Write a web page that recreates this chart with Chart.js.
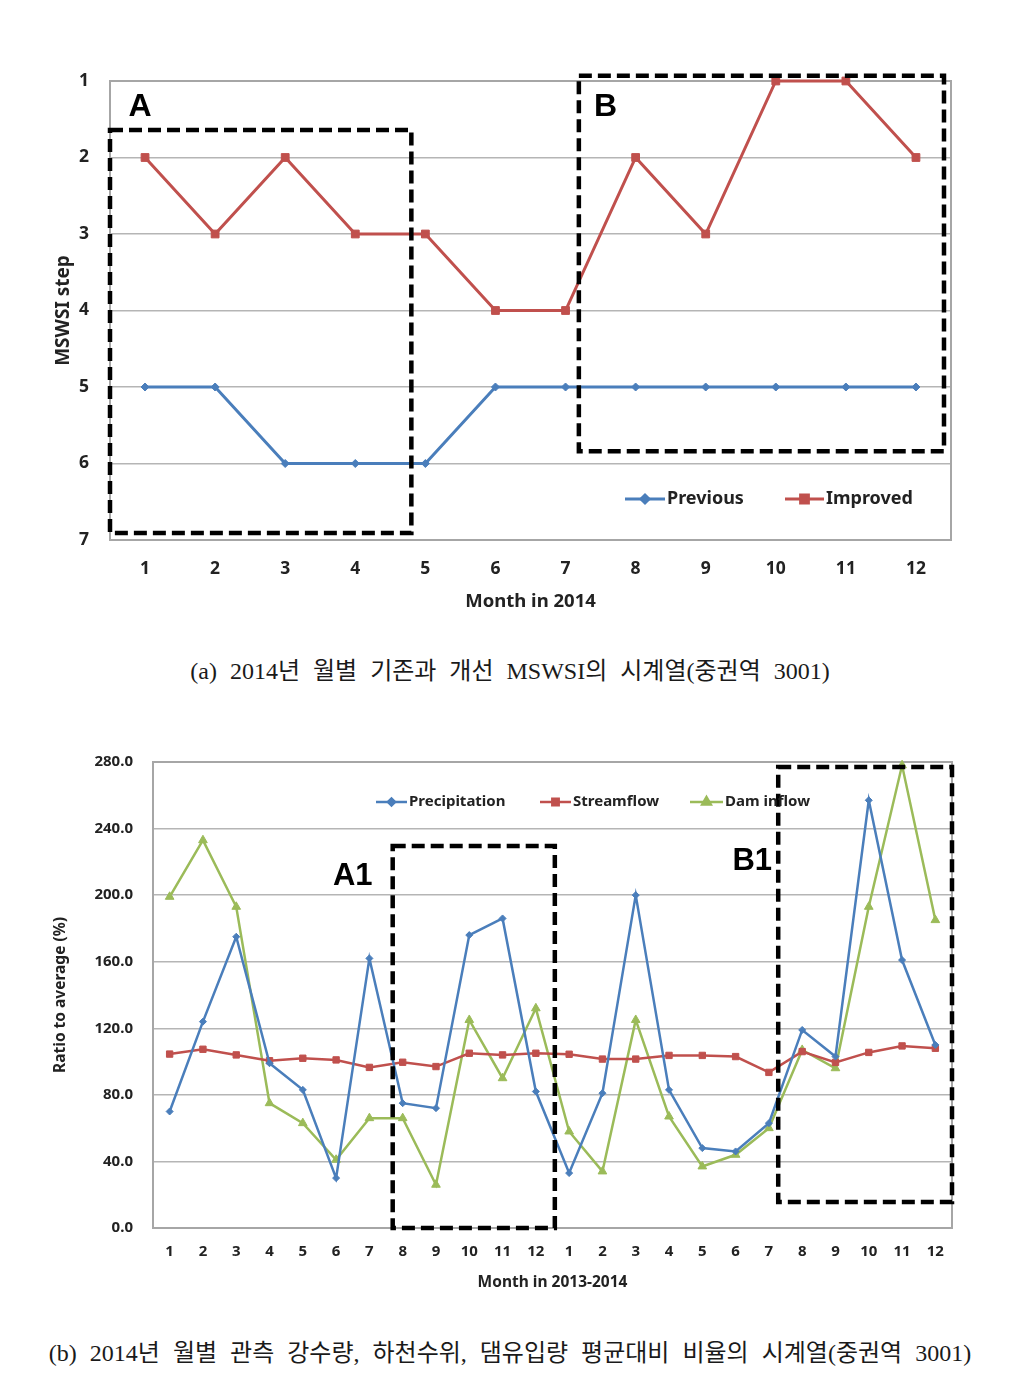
<!DOCTYPE html>
<html>
<head>
<meta charset="utf-8">
<script src="https://cdn.jsdelivr.net/npm/chart.js@4.4.0/dist/chart.umd.min.js"></script>
<style>
body { margin: 0; background: #fff; width: 1020px; height: 1387px; position: relative; overflow: hidden; }
canvas { position: absolute; left: 0; }
.cap { position: absolute; left: 0; width: 1020px; text-align: center; line-height: 30px;
       font-family: "Liberation Serif", "Noto Sans CJK KR", serif; font-size: 24px; color: #1a1a1a; word-spacing: 7px; }
</style>
</head>
<body>
<canvas id="chartA" width="1020" height="650" style="top:0"></canvas>
<div class="cap" style="top:656px">(a) 2014년 월별 기존과 개선 MSWSI의 시계열(중권역 3001)</div>
<canvas id="chartB" width="1020" height="620" style="top:700px"></canvas>
<div class="cap" style="top:1338px">(b) 2014년 월별 관측 강수량, 하천수위, 댐유입량 평균대비 비율의 시계열(중권역 3001)</div>

<script>
// chart (a) data
const monthsA = ['1', '2', '3', '4', '5', '6', '7', '8', '9', '10', '11', '12'];
const previousStep = [5, 5, 6, 6, 6, 5, 5, 5, 5, 5, 5, 5];
const improvedStep = [2, 3, 2, 3, 3, 4, 4, 2, 3, 1, 1, 2];
const stepTicks = [1, 2, 3, 4, 5, 6, 7];

// chart (b) data, Jan 2013 .. Dec 2014
const monthsB = ['1', '2', '3', '4', '5', '6', '7', '8', '9', '10', '11', '12',
                 '1', '2', '3', '4', '5', '6', '7', '8', '9', '10', '11', '12'];
const precipitation = [70, 124, 175, 99, 83, 30, 162, 75, 72, 176, 186, 82,
                       33, 81, 200, 83, 48, 46, 63, 119, 103, 257, 161, 110];
const streamflow = [104.5, 107.4, 104, 100.5, 102, 101, 96.5, 99.6, 97, 105, 104, 105,
                    104.4, 101.5, 101.5, 103.7, 103.7, 103, 93.5, 106, 99.5, 105.5, 109.4, 108];
const damInflow = [199, 233, 193, 75, 63, 41, 66, 66, 26, 125, 90, 132,
                   58, 34, 125, 67, 37, 44, 60, 107, 96, 193, 278, 185];
const ratioTicks = [0, 40, 80, 120, 160, 200, 240, 280];

const axisFont = 'Noto Sans';

// gray frame around the plot area
const framePlugin = {
    id: 'frame',
    beforeDatasetsDraw(chart) {
        const { ctx, chartArea: a } = chart;
        ctx.save();
        ctx.strokeStyle = '#a6a6a6';
        ctx.lineWidth = 2;
        ctx.strokeRect(a.left, a.top, a.right - a.left, a.bottom - a.top);
        ctx.restore();
    }
};

// dashed highlight boxes and their letters
const boxPlugin = {
    id: 'boxes',
    afterDatasetsDraw(chart, args, opts) {
        const { ctx, scales: { x, y } } = chart;
        ctx.save();
        ctx.strokeStyle = '#000';
        ctx.lineWidth = 4.5;
        ctx.setLineDash([13, 6]);
        opts.items.forEach(b => {
            const l = x.getPixelForValue(b.x0), r = x.getPixelForValue(b.x1);
            const t = y.getPixelForValue(b.y0), bt = y.getPixelForValue(b.y1);
            ctx.strokeRect(l, t, r - l, bt - t);
        });
        ctx.setLineDash([]);
        ctx.fillStyle = '#000';
        ctx.font = opts.font;
        ctx.textAlign = 'center';
        ctx.textBaseline = 'middle';
        opts.labels.forEach(lb => {
            ctx.fillText(lb.text, x.getPixelForValue(lb.x), y.getPixelForValue(lb.y));
        });
        ctx.restore();
    }
};

// legend drawn inside the plot, Excel style
const legendPlugin = {
    id: 'inLegend',
    afterDraw(chart, args, opts) {
        const ctx = chart.ctx;
        ctx.save();
        chart.data.datasets.forEach((ds, i) => {
            const it = opts.items[i];
            ctx.strokeStyle = ds.borderColor;
            ctx.lineWidth = ds.borderWidth;
            ctx.beginPath();
            ctx.moveTo(it.x, it.y);
            ctx.lineTo(it.x + it.len, it.y);
            ctx.stroke();
            ctx.fillStyle = ds.pointBackgroundColor;
            ctx.strokeStyle = ds.pointBorderColor;
            Chart.helpers.drawPoint(ctx, { pointStyle: ds.pointStyle, radius: ds.pointRadius, borderWidth: 1, rotation: 0 },
                it.x + it.len / 2, it.y);
            ctx.fillStyle = '#222';
            ctx.font = opts.font;
            ctx.textAlign = 'left';
            ctx.textBaseline = 'middle';
            ctx.fillText(ds.label, it.x + it.len + 2, it.y);
        });
        ctx.restore();
    }
};

function makeSeries(label, data, color, style, radius, width) {
    return {
        label: label,
        data: data,
        borderColor: color,
        backgroundColor: color,
        pointBackgroundColor: color,
        pointBorderColor: color,
        borderWidth: width,
        pointStyle: style,
        pointRadius: radius,
        pointBorderWidth: 1,
        tension: 0,
        clip: false
    };
}

function createChartA() {
    const ctx = document.getElementById('chartA').getContext('2d');
    new Chart(ctx, {
        type: 'line',
        data: {
            labels: monthsA,
            datasets: [
                makeSeries('Previous', previousStep, '#4a7ebb', 'rectRot', 4, 3),
                makeSeries('Improved', improvedStep, '#c0504d', 'rect', 5.5, 3)
            ]
        },
        options: {
            responsive: false,
            animation: false,
            layout: { padding: { left: 48, right: 69, top: 81, bottom: 33 } },
            plugins: {
                legend: { display: false },
                tooltip: { enabled: false },
                boxes: {
                    font: 'bold 32px "Liberation Sans"',
                    items: [
                        { x0: -0.5, x1: 3.8, y0: 1.64, y1: 6.91 },
                        { x0: 6.19, x1: 11.4, y0: 0.93, y1: 5.84 }
                    ],
                    labels: [
                        { text: 'A', x: -0.07, y: 1.34 },
                        { text: 'B', x: 6.57, y: 1.34 }
                    ]
                },
                inLegend: {
                    font: 'bold 18px "' + axisFont + '"',
                    items: [
                        { x: 625, y: 499, len: 40 },
                        { x: 785, y: 499, len: 39 }
                    ]
                }
            },
            scales: {
                x: {
                    type: 'category',
                    offset: true,
                    grid: { display: false, drawTicks: false },
                    border: { display: true, color: '#999', width: 2 },
                    ticks: { color: '#222', padding: 19, maxRotation: 0, autoSkip: false,
                             font: { family: axisFont, size: 17.5, weight: 'bold' } },
                    title: { display: true, text: 'Month in 2014', color: '#222',
                             padding: { top: 4, bottom: 4 },
                             font: { family: axisFont, size: 18.5, weight: 'bold' } },
                    afterFit: s => { s.height = 77; }
                },
                y: {
                    type: 'linear',
                    reverse: true,
                    min: 1,
                    max: 7,
                    afterBuildTicks: s => { s.ticks = stepTicks.map(v => ({ value: v })); },
                    grid: { color: '#b5b5b5', lineWidth: 1.5, drawTicks: false },
                    border: { display: true, color: '#999', width: 2 },
                    ticks: { color: '#222', padding: 21,
                             font: { family: axisFont, size: 17.5, weight: 'bold' } },
                    title: { display: true, text: 'MSWSI step', color: '#222',
                             padding: { top: 4, bottom: 4 },
                             font: { family: axisFont, size: 19, weight: 'bold' } },
                    afterFit: s => { s.width = 62; }
                }
            }
        },
        plugins: [framePlugin, boxPlugin, legendPlugin]
    });
}

function createChartB() {
    const ctx = document.getElementById('chartB').getContext('2d');
    new Chart(ctx, {
        type: 'line',
        data: {
            labels: monthsB,
            datasets: [
                makeSeries('Precipitation', precipitation, '#4a7ebb', 'rectRot', 3.5, 2.5),
                makeSeries('Streamflow', streamflow, '#c0504d', 'rect', 4.5, 2.5),
                makeSeries('Dam inflow', damInflow, '#9bbb59', 'triangle', 5, 2.5)
            ]
        },
        options: {
            responsive: false,
            animation: false,
            layout: { padding: { left: 47, right: 68, top: 62, bottom: 24 } },
            plugins: {
                legend: { display: false },
                tooltip: { enabled: false },
                boxes: {
                    font: 'bold 31px "Liberation Sans"',
                    items: [
                        { x0: 6.7, x1: 11.57, y0: 229.5, y1: 0 },
                        { x0: 18.28, x1: 23.5, y0: 277, y1: 15.6 }
                    ],
                    labels: [
                        { text: 'A1', x: 5.5, y: 211 },
                        { text: 'B1', x: 17.5, y: 220 }
                    ]
                },
                inLegend: {
                    font: 'bold 15px "' + axisFont + '"',
                    items: [
                        { x: 376, y: 102, len: 31 },
                        { x: 540, y: 102, len: 31 },
                        { x: 690, y: 102, len: 33 }
                    ]
                }
            },
            scales: {
                x: {
                    type: 'category',
                    offset: true,
                    grid: { display: false, drawTicks: false },
                    border: { display: true, color: '#999', width: 2 },
                    ticks: { color: '#222', padding: 15, maxRotation: 0, autoSkip: false,
                             font: { family: axisFont, size: 15, weight: 'bold' } },
                    title: { display: true, text: 'Month in 2013-2014', color: '#222',
                             padding: { top: 4, bottom: 4 },
                             font: { family: axisFont, size: 15.5, weight: 'bold' } },
                    afterFit: s => { s.height = 68; }
                },
                y: {
                    type: 'linear',
                    min: 0,
                    max: 280,
                    afterBuildTicks: s => { s.ticks = ratioTicks.map(v => ({ value: v })); },
                    grid: { color: '#b5b5b5', lineWidth: 1.5, drawTicks: false },
                    border: { display: true, color: '#999', width: 2 },
                    ticks: { color: '#222', padding: 20, callback: v => v.toFixed(1),
                             font: { family: axisFont, size: 15, weight: 'bold' } },
                    title: { display: true, text: 'Ratio to average (%)', color: '#222',
                             padding: { top: 4, bottom: 4 },
                             font: { family: axisFont, size: 15.5, weight: 'bold' } },
                    afterFit: s => { s.width = 106; }
                }
            }
        },
        plugins: [framePlugin, boxPlugin, legendPlugin]
    });
}

createChartA();
createChartB();
</script>
</body>
</html>
